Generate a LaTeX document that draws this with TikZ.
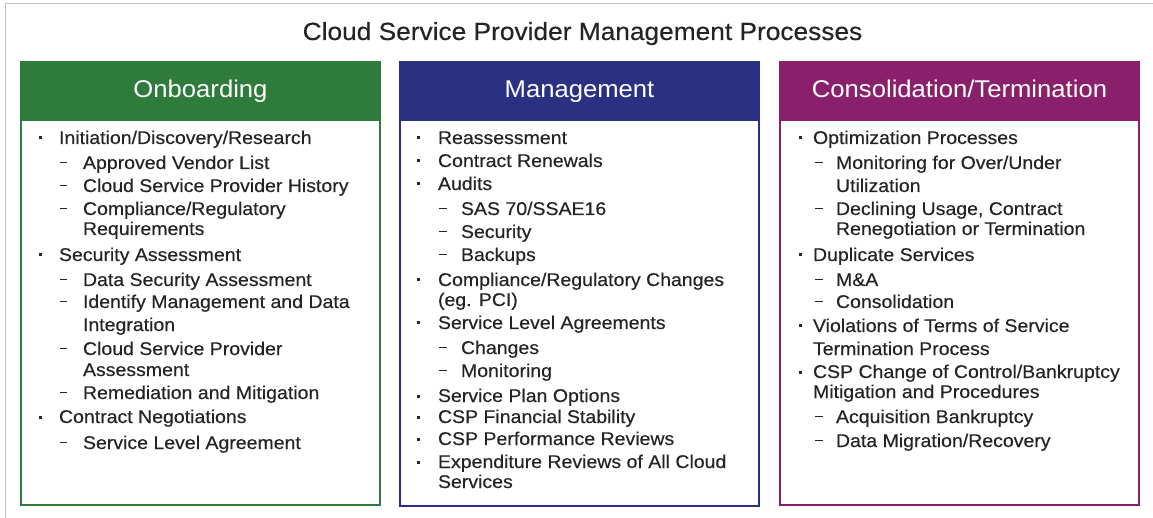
\documentclass[tikz,border=0pt]{standalone}
\usepackage{fontspec}
\setmainfont[FakeStretch=1.06]{Liberation Sans}
\newfontfamily\bodyfont[FakeStretch=1.06,FakeBold=0.3]{Liberation Sans}
\definecolor{obg}{HTML}{2E7B3B}
\definecolor{mgb}{HTML}{2A3183}
\definecolor{ctp}{HTML}{8A1F6C}
\definecolor{ink}{HTML}{242424}
\definecolor{framegray}{HTML}{C4C4C4}
\newcommand\MainItem[5]{%
  \node[bul] (#1-b) at (#2,#4-6) {};
  \node[txt] (#1) at (#3,#4) {#5};}
\newcommand\SubItem[5]{%
  \node[dsh] (#1-d) at (#2,#4-6.5) {};
  \node[txt] (#1) at (#3,#4) {#5};}
\newcommand\ContLine[4]{\node[txt] (#1) at (#2,#3) {#4};}
\begin{document}
\begin{tikzpicture}[x=1pt,y=-1pt,
  txt/.style={anchor=base west, inner sep=0pt, outer sep=0pt, text=ink, font=\bodyfont\fontsize{18.4}{22}\selectfont},
  ttl/.style={anchor=base, inner sep=0pt, text=ink, font=\bodyfont\fontsize{24.8}{28}\selectfont},
  hdr/.style={anchor=north west, draw=#1, fill=#1, line width=2pt, outer sep=0pt,
    minimum width=359pt, minimum height=58pt, inner sep=0pt, text=white,
    text height=13pt, text depth=0pt, font=\fontsize{24.2}{27}\selectfont},
  bdy/.style={anchor=north west, draw=#1, line width=2.5pt, outer sep=0pt,
    minimum width=359pt, inner sep=0pt},
  bul/.style={fill=ink, inner sep=0pt, minimum size=3pt},
  dsh/.style={fill=ink, inner sep=0pt, minimum width=7.5pt, minimum height=1.9pt}
]
\useasboundingbox (0,0) rectangle (1153,518);
\fill[white] (0,0) rectangle (1153,518);
\draw[framegray, line width=1pt] (5,4) rectangle (1200,560);

\node[ttl] (title) at (582.5,40) {Cloud Service Provider Management Processes};

% headers and bodies
\node[hdr=obg] (obh) at (21,62) {Onboarding};
\node[bdy=obg, minimum height=385pt] (obb) at (obh.south west) {};
\node[hdr=mgb] (mgh) at (400,62) {Management};
\node[bdy=mgb, minimum height=386pt] (mgb) at (mgh.south west) {};
\node[hdr=ctp] (cth) at (780,62) {Consolidation/Termination};
\node[bdy=ctp, minimum height=385pt] (ctb) at (cth.south west) {};

% Onboarding
\MainItem{o1}{40}{59}{144}{Initiation/Discovery/Research}
\SubItem{o2}{63.5}{83}{169}{Approved Vendor List}
\SubItem{o3}{63.5}{83}{192}{Cloud Service Provider History}
\SubItem{o4}{63.5}{83}{215}{Compliance/Regulatory}
\ContLine{o5}{83}{235}{Requirements}
\MainItem{o6}{40}{59}{261}{Security Assessment}
\SubItem{o7}{63.5}{83}{286}{Data Security Assessment}
\SubItem{o8}{63.5}{83}{308}{Identify Management and Data}
\ContLine{o9}{83}{331}{Integration}
\SubItem{o10}{63.5}{83}{355}{Cloud Service Provider}
\ContLine{o11}{83}{376}{Assessment}
\SubItem{o12}{63.5}{83}{399}{Remediation and Mitigation}
\MainItem{o13}{40}{59}{423}{Contract Negotiations}
\SubItem{o14}{63.5}{83}{449}{Service Level Agreement}

% Management
\MainItem{m1}{418}{438}{144}{Reassessment}
\MainItem{m2}{418}{438}{167}{Contract Renewals}
\MainItem{m3}{418}{438}{190}{Audits}
\SubItem{m4}{443}{461}{215}{SAS 70/SSAE16}
\SubItem{m5}{443}{461}{238}{Security}
\SubItem{m6}{443}{461}{261}{Backups}
\MainItem{m7}{418}{438}{286}{Compliance/Regulatory Changes}
\ContLine{m8}{438}{306}{(eg. PCI)}
\MainItem{m9}{418}{438}{329}{Service Level Agreements}
\SubItem{m10}{443}{461}{354}{Changes}
\SubItem{m11}{443}{461}{377}{Monitoring}
\MainItem{m12}{418}{438}{402}{Service Plan Options}
\MainItem{m13}{418}{438}{423}{CSP Financial Stability}
\MainItem{m14}{418}{438}{445}{CSP Performance Reviews}
\MainItem{m15}{418}{438}{468}{Expenditure Reviews of All Cloud}
\ContLine{m16}{438}{488}{Services}

% Consolidation/Termination
\MainItem{c1}{800}{813}{144}{Optimization Processes}
\SubItem{c2}{819}{836}{169}{Monitoring for Over/Under}
\ContLine{c3}{836}{192}{Utilization}
\SubItem{c4}{819}{836}{215}{Declining Usage, Contract}
\ContLine{c5}{836}{235}{Renegotiation or Termination}
\MainItem{c6}{800}{813}{261}{Duplicate Services}
\SubItem{c7}{819}{836}{286}{M\&A}
\SubItem{c8}{819}{836}{308}{Consolidation}
\MainItem{c9}{800}{813}{332}{Violations of Terms of Service}
\ContLine{c10}{813}{355}{Termination Process}
\MainItem{c11}{800}{813}{378}{CSP Change of Control/Bankruptcy}
\ContLine{c12}{813}{398}{Mitigation and Procedures}
\SubItem{c13}{819}{836}{423}{Acquisition Bankruptcy}
\SubItem{c14}{819}{836}{447}{Data Migration/Recovery}
\end{tikzpicture}
\end{document}
